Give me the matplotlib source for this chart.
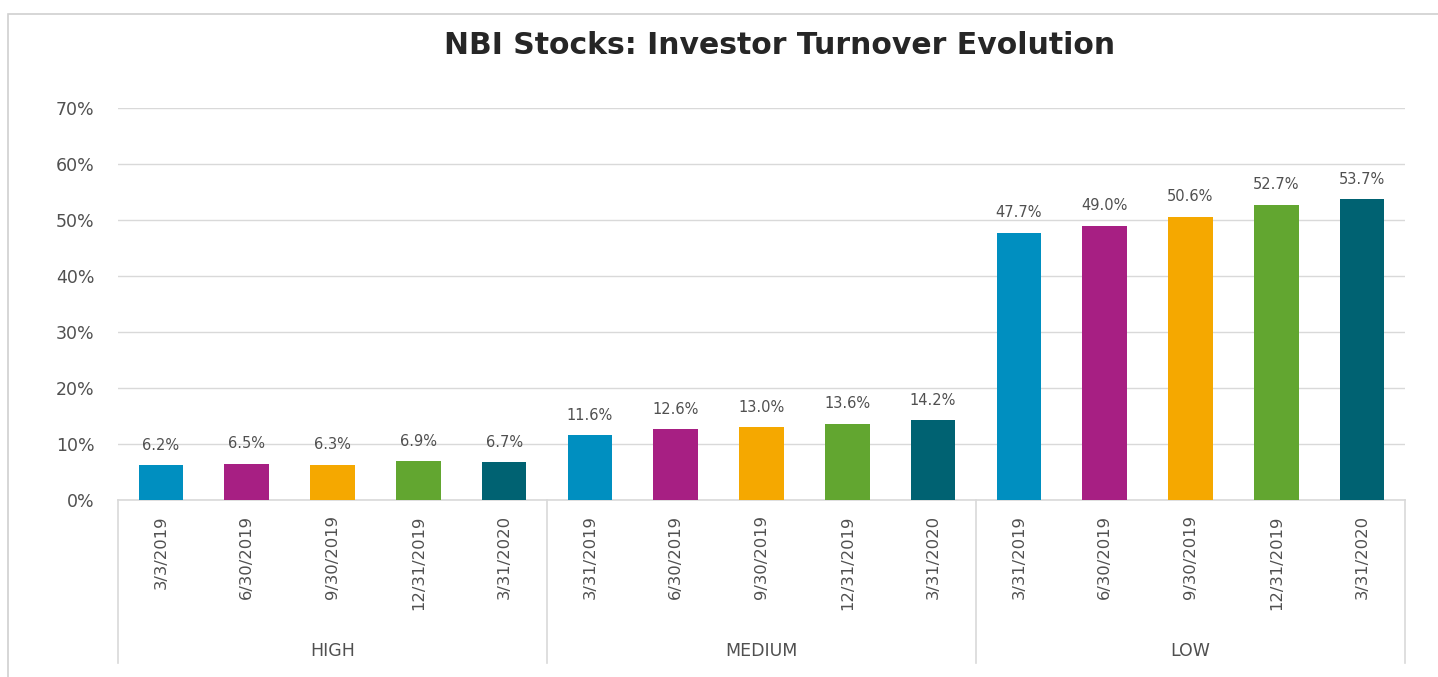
import matplotlib.pyplot as plt
from matplotlib.patches import Rectangle

# data
groups = ["HIGH", "MEDIUM", "LOW"]
dates = ["3/3/2019", "6/30/2019", "9/30/2019", "12/31/2019", "3/31/2020",
         "3/31/2019", "6/30/2019", "9/30/2019", "12/31/2019", "3/31/2020",
         "3/31/2019", "6/30/2019", "9/30/2019", "12/31/2019", "3/31/2020"]
values = [6.2, 6.5, 6.3, 6.9, 6.7,
          11.6, 12.6, 13.0, 13.6, 14.2,
          47.7, 49.0, 50.6, 52.7, 53.7]
palette = ["#008fc0", "#a71f83", "#f5a800", "#62a630", "#006272"]

txt = "#505050"
grid_c = "#d9d9d9"

fig = plt.figure(figsize=(14.38, 6.77), dpi=100)
fig.patches.append(Rectangle((8/1438, -0.1), 1.2, 1 - 14/677 + 0.1,
                             transform=fig.transFigure, fill=False,
                             edgecolor="#d0d0d0", linewidth=1.2))

ax = fig.add_axes([118/1438, 1 - 500/677, 1287/1438, 392/677])
x = list(range(len(values)))
cols = [palette[i % 5] for i in x]
ax.bar(x, values, width=0.52, color=cols, zorder=3)

for xi, v in zip(x, values):
    ax.annotate(f"{v:.1f}%", (xi, v), xytext=(0, 9), textcoords="offset points",
                ha="center", va="bottom", fontsize=10.5, color=txt)

ax.set_xlim(-0.5, 14.5)
ax.set_ylim(0, 70)
ax.set_yticks(range(0, 71, 10))
ax.set_yticklabels([f"{t}%" for t in range(0, 71, 10)])
ax.yaxis.grid(True, color=grid_c, linewidth=1, zorder=0)
ax.tick_params(axis="y", length=0, pad=17, labelsize=12.5, labelcolor=txt)

ax.set_xticks(x)
ax.set_xticklabels(dates, rotation=90, va="top", ha="center")
ax.tick_params(axis="x", length=0, pad=11, labelsize=11.8, labelcolor=txt)

for s in ["top", "right", "left"]:
    ax.spines[s].set_visible(False)
ax.spines["bottom"].set_color(grid_c)
ax.spines["bottom"].set_linewidth(1.2)

# hierarchical category axis
tr = ax.get_xaxis_transform()
for sep in [-0.5, 4.5, 9.5, 14.5]:
    ax.plot([sep, sep], [0, -163/392], color=grid_c, linewidth=1.2,
            transform=tr, clip_on=False)
for i, g in enumerate(groups):
    ax.text(i * 5 + 2, -151/392, g, transform=tr, ha="center", va="center",
            fontsize=12.5, color=txt)

fig.text(780/1438, 1 - 45/677, "NBI Stocks: Investor Turnover Evolution",
         ha="center", va="center", fontsize=21.5, fontweight="bold", color="#262626")

fig.savefig("out.png", dpi=100)
